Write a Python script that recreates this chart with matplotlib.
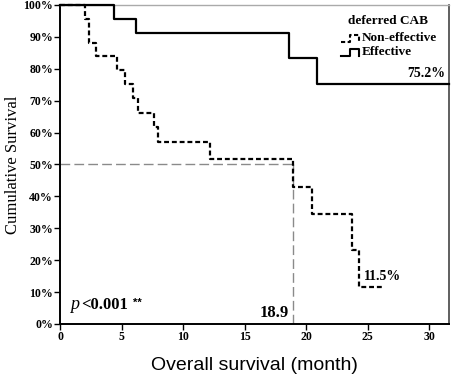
import matplotlib
matplotlib.use("Agg")
import matplotlib.pyplot as plt
from matplotlib.lines import Line2D

# ---- data ----
eff_time = [0, 4.4, 6.2, 18.6, 20.9, 31.6]
eff_surv = [100, 95.7, 91.3, 83.5, 75.2, 75.2]

non_time = [0, 2.0, 2.35, 2.9, 4.6, 5.3, 5.9, 6.3, 7.6, 7.97, 12.2, 18.9, 20.5, 23.7, 24.3, 26.2]
non_surv = [100, 95.7, 88.0, 84.0, 79.6, 75.2, 70.7, 66.3, 61.9, 57.2, 51.8, 43.1, 34.5, 23.2, 11.5, 11.5]

median_non = 18.9
x_ticks = [0, 5, 10, 15, 20, 25, 30]
y_ticks = [0, 10, 20, 30, 40, 50, 60, 70, 80, 90, 100]
y_labels = [f"{v}%" for v in y_ticks]

serif = ["Liberation Serif", "DejaVu Serif"]

fig = plt.figure(figsize=(4.54, 3.78), dpi=100)
ax = fig.add_axes([60/454, 1-324/378, 389/454, 319/378])

# median reference lines
ax.plot([0, median_non], [50, 50], color="#8a8a8a", lw=1.0, dashes=(7, 3))
ax.plot([median_non, median_non], [0, 50], color="#8a8a8a", lw=1.0, dashes=(7, 3))

ax.plot(eff_time, eff_surv, drawstyle="steps-post", color="black", lw=1.6, clip_on=False, zorder=3)
ax.plot(non_time, non_surv, drawstyle="steps-post", color="black", lw=1.6, dashes=(2.2, 1.3),
        clip_on=False, zorder=3)

ax.set_xlim(0, 31.6)
ax.set_ylim(0, 100)
ax.set_xticks(x_ticks)
ax.set_xticklabels([str(v) for v in x_ticks], family=serif, fontweight="bold", fontsize=8.5)
ax.set_yticks(y_ticks)
ax.set_yticklabels(y_labels, family=serif, fontweight="bold", fontsize=8.5)
ax.tick_params(axis="both", direction="out", length=4, width=1.0, pad=1)

for s in ["left", "bottom"]:
    ax.spines[s].set_linewidth(1.4)
    ax.spines[s].set_color("black")
ax.spines["right"].set_color("#444444")
ax.spines["right"].set_linewidth(1.2)
ax.spines["top"].set_color("#aaaaaa")
ax.spines["top"].set_linewidth(1.0)

ax.set_ylabel("Cumulative Survival", family=serif, fontsize=12, labelpad=2)
ax.set_xlabel("Overall survival (month)", family=["Liberation Sans", "DejaVu Sans"], fontsize=14, labelpad=10)

# annotations
ax.text(31.3, 75.2 + 1.2, "75.2%", family=serif, fontweight="bold", fontsize=10, ha="right", va="bottom")
ax.text(24.7, 11.5 + 1.5, "11.5%", family=serif, fontweight="bold", fontsize=10, ha="left", va="bottom")
ax.text(median_non - 0.3, 1.0, "18.9", family=serif, fontweight="bold", fontsize=12, ha="right", va="bottom")
ax.text(0.8, 3.3, "p", family=serif, style="italic", fontsize=13, ha="left", va="bottom")
ax.text(1.75, 3.3, "<0.001", family=serif, fontweight="bold", fontsize=12, ha="left", va="bottom")
ax.text(5.9, 5.0, "**", family=["Liberation Sans", "DejaVu Sans"], fontweight="bold", fontsize=8, ha="left", va="bottom")

# legend (manual)
def ax_xy(px, py):
    return (px - 60) / 389, (324 - py) / 319

tx, ty = ax_xy(388, 21)
ax.text(tx, ty, "deferred CAB", transform=ax.transAxes, family=serif, fontweight="bold",
        fontsize=9.5, ha="center", va="center")
lx, ly1 = ax_xy(362, 38)
_, ly2 = ax_xy(362, 52)
ax.text(lx, ly1, "Non-effective", transform=ax.transAxes, family=serif, fontweight="bold",
        fontsize=9.5, ha="left", va="center")
ax.text(lx, ly2, "Effective", transform=ax.transAxes, family=serif, fontweight="bold",
        fontsize=9.5, ha="left", va="center")

def icon(py, dashed):
    x0, yb = ax_xy(341, py + 4)
    x1, _ = ax_xy(350, py + 4)
    x2, yt = ax_xy(359, py - 3)
    xs = [x0, x1, x1, x2, x2]
    ys = [yb, yb, yt, yt, yb]
    kw = dict(transform=ax.transAxes, color="black", lw=1.5, clip_on=False)
    if dashed:
        kw["dashes"] = (2, 1.2)
    ax.add_line(Line2D(xs, ys, **kw))

icon(38, True)
icon(52, False)

fig.savefig("out.png", dpi=100)
